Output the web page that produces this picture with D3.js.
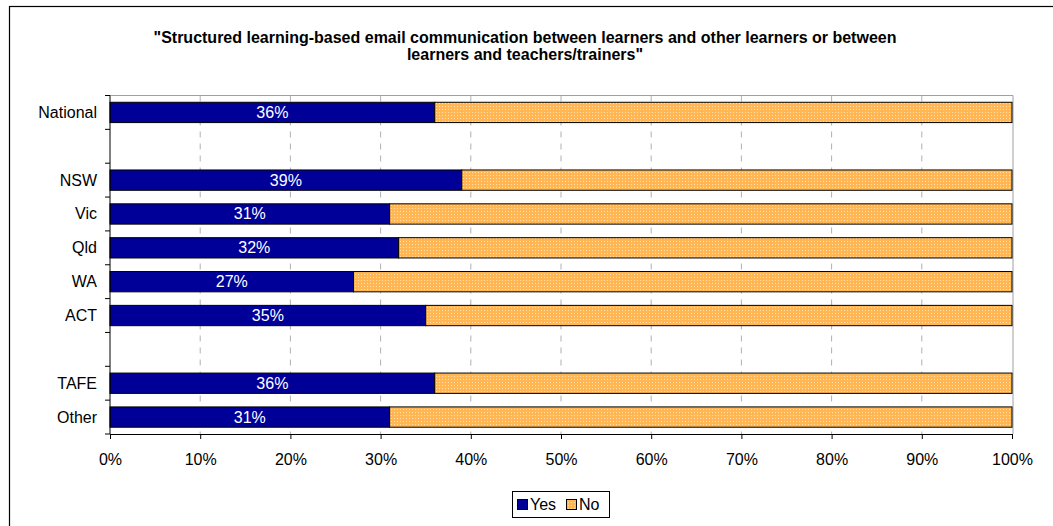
<!DOCTYPE html>
<html><head><meta charset="utf-8">
<script src="https://cdn.jsdelivr.net/npm/d3@7"></script>
<style>body{margin:0;background:#fff;font-family:Arial,"Liberation Sans",sans-serif;}</style>
</head><body><svg id="c" width="1053" height="526"></svg>
<script>
const categories = ["National", "", "NSW", "Vic", "Qld", "WA", "ACT", " ", "TAFE", "Other"];
const yesValues = [36, null, 39, 31, 32, 27, 35, null, 36, 31];
const noValues  = [64, null, 61, 69, 68, 73, 65, null, 64, 69];
const xTicks = [0,10,20,30,40,50,60,70,80,90,100];
const seriesNames = ["Yes", "No"];
const titleLines = ["\"Structured learning-based email communication between learners and other learners or between", "learners and teachers/trainers\""];

const FONT = "Arial,'Liberation Sans',sans-serif";
const svg = d3.select("#c").attr("font-family", FONT);
const defs = svg.append("defs");
const pat = defs.append("pattern").attr("id","dots").attr("width",3).attr("height",3).attr("patternUnits","userSpaceOnUse");
pat.append("rect").attr("width",3).attr("height",3).attr("fill","#FFB653");
pat.append("rect").attr("x",1).attr("y",1).attr("width",1).attr("height",1).attr("fill","#FFE2B0");

// outer frame
svg.append("rect").attr("x",9.5).attr("y",6.5).attr("width",1100).attr("height",600).attr("fill","none").attr("stroke","#000").attr("stroke-width",1.2);

const L=110, R=1012, T=95.5, B=434;
const x = d3.scaleLinear().domain([0,100]).range([L,R]);
const y = d3.scaleBand().domain(categories).range([T,B]).paddingInner(0.4).paddingOuter(0.2);

// title
svg.append("g").selectAll("text").data(titleLines).join("text")
  .attr("x",525).attr("y",(d,i)=>43+i*16.5).attr("text-anchor","middle")
  .attr("font-size",16).attr("font-weight","bold").attr("fill","#000").text(d=>d);

// gridlines
svg.append("g").selectAll("line").data(xTicks.slice(1,-1)).join("line")
  .attr("x1",d=>x(d)).attr("x2",d=>x(d)).attr("y1",T).attr("y2",B)
  .attr("stroke","#b0b0b0").attr("stroke-dasharray","6,6");
// plot area border (gray)
svg.append("line").attr("x1",L).attr("x2",R+1).attr("y1",T).attr("y2",T).attr("stroke","#a0a0a0");
svg.append("line").attr("x1",R+1).attr("x2",R+1).attr("y1",T).attr("y2",B).attr("stroke","#a0a0a0");

const rows = categories.map((c,i)=>({c, yes:yesValues[i], no:noValues[i]})).filter(d=>d.yes!=null);

svg.append("g").selectAll("rect").data(rows).join("rect")
  .attr("x",x(0)).attr("y",d=>y(d.c)).attr("width",d=>x(d.yes)-x(0)).attr("height",y.bandwidth())
  .attr("fill","#000099").attr("stroke","#000").attr("stroke-width",1);
svg.append("g").selectAll("rect").data(rows).join("rect")
  .attr("x",d=>x(d.yes)).attr("y",d=>y(d.c)).attr("width",d=>x(d.yes+d.no)-x(d.yes)).attr("height",y.bandwidth())
  .attr("fill","url(#dots)").attr("stroke","#000").attr("stroke-width",1);
svg.append("g").selectAll("text").data(rows).join("text")
  .attr("x",d=>x(d.yes/2)).attr("y",d=>y(d.c)+y.bandwidth()/2+5.5)
  .attr("text-anchor","middle").attr("font-size",16).attr("fill","#fff").text(d=>d.yes+"%");

// axes
const yAxisTicks = d3.range(categories.length+1).map(i=>T+i*(B-T)/categories.length);
svg.append("line").attr("x1",L).attr("x2",L).attr("y1",T).attr("y2",B).attr("stroke","#000");
svg.append("g").selectAll("line").data(yAxisTicks).join("line")
  .attr("x1",L-5).attr("x2",L).attr("y1",d=>d).attr("y2",d=>d).attr("stroke","#000");
svg.append("g").selectAll("text").data(categories.filter(c=>c.trim()!=="")).join("text")
  .attr("x",L-13).attr("y",d=>y(d)+y.bandwidth()/2+5.5).attr("text-anchor","end")
  .attr("font-size",16).attr("fill","#000").text(d=>d);

const xa = d3.axisBottom(x).tickValues(xTicks).tickFormat(d=>d+"%").tickSize(5).tickPadding(15);
const gx = svg.append("g").attr("transform",`translate(0,${B})`).call(xa);
gx.select(".domain").attr("stroke","#000");
gx.selectAll("line").attr("stroke","#000");
gx.selectAll("text").attr("font-size",16).attr("font-family",FONT).attr("fill","#000");

// legend
const lg = svg.append("g");
lg.append("rect").attr("x",512.5).attr("y",491.5).attr("width",97).attr("height",26).attr("fill","#fff").attr("stroke","#000");
const lx = [517, 566];
seriesNames.forEach((n,i)=>{
  lg.append("rect").attr("x",lx[i]+0.5).attr("y",499.5).attr("width",10).attr("height",10)
    .attr("fill", i===0?"#000099":"url(#dots)").attr("stroke","#000");
  lg.append("text").attr("x",lx[i]+13).attr("y",510).attr("font-size",16).attr("fill","#000").text(n);
});
</script></body></html>
